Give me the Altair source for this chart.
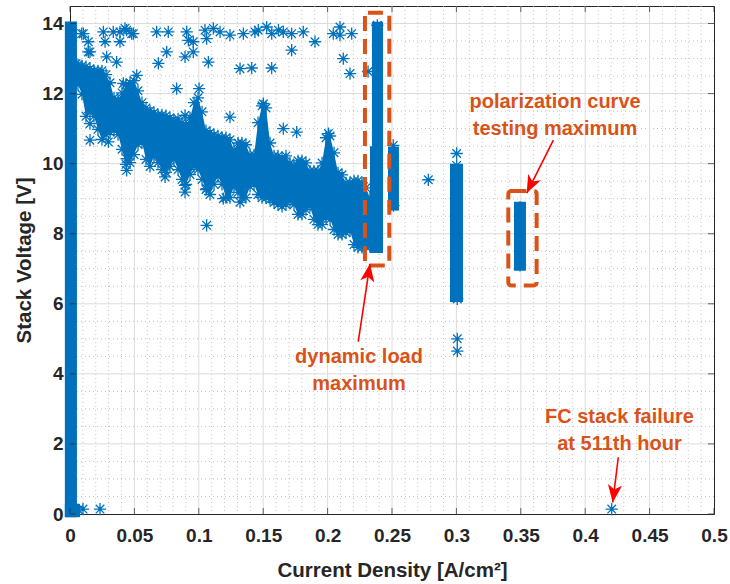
import altair as alt
import pandas as pd

BLUE = "#0072BD"
ORANGE = "#D95319"
RED = "#FF0000"
INK = "#262626"
FONT = "Liberation Sans"

# ---- dense band (upper / lower envelope of the scatter cloud) ----
BAND_X = [0.0047, 0.0062, 0.0093, 0.0124, 0.0155, 0.0186, 0.0217, 0.0248, 0.0280, 0.0311,
          0.0342, 0.0373, 0.0404, 0.0435, 0.0466, 0.0497, 0.0528, 0.0559, 0.0590, 0.0621,
          0.0652, 0.0683, 0.0714, 0.0745, 0.0776, 0.0807, 0.0839, 0.0870, 0.0901, 0.0932,
          0.0963, 0.0994, 0.1025, 0.1056, 0.1087, 0.1118, 0.1149, 0.1180, 0.1211, 0.1242,
          0.1273, 0.1304, 0.1335, 0.1366, 0.1398, 0.1429, 0.1460, 0.1491, 0.1522, 0.1553,
          0.1584, 0.1615, 0.1646, 0.1677, 0.1708, 0.1739, 0.1770, 0.1801, 0.1832, 0.1863,
          0.1894, 0.1925, 0.1957, 0.1988, 0.2019, 0.2050, 0.2081, 0.2112, 0.2143, 0.2174,
          0.2205, 0.2236, 0.2267, 0.2298, 0.2329]
BAND_TOP = [12.85, 12.82, 12.79, 12.77, 12.71, 12.65, 12.65, 12.65, 12.54, 12.31,
            11.88, 11.82, 12.02, 12.25, 12.31, 12.37, 12.08, 11.74, 11.59, 11.51,
            11.45, 11.39, 11.39, 11.37, 11.31, 11.22, 11.28, 11.17, 11.11, 11.31,
            11.74, 11.88, 11.48, 10.94, 10.88, 10.82, 10.79, 10.74, 10.74, 10.68,
            10.39, 10.59, 10.59, 10.54, 10.25, 10.25, 11.17, 11.65, 11.59, 10.59,
            10.22, 10.22, 10.17, 10.22, 10.02, 9.94, 10.08, 10.08, 10.02, 9.79,
            9.79, 9.79, 10.02, 10.74, 10.79, 10.31, 9.74, 9.68, 9.45, 9.45,
            9.51, 9.51, 9.45, 9.31, 9.02]
BAND_BOT = [12.30, 12.26, 11.98, 11.35, 11.46, 11.35, 10.98, 10.69, 10.83, 10.90,
            10.95, 10.83, 10.41, 9.98, 10.03, 10.26, 10.55, 10.61, 10.12, 9.92,
            10.21, 10.03, 9.83, 9.75, 9.92, 10.12, 9.83, 9.55, 9.41, 9.69,
            9.92, 9.83, 9.55, 9.26, 9.12, 9.41, 9.63, 9.41, 9.03, 9.03,
            9.35, 9.18, 9.03, 9.03, 9.35, 9.41, 9.12, 9.03, 9.03, 8.98,
            8.89, 8.83, 8.78, 8.83, 8.92, 8.83, 8.55, 8.55, 8.69, 8.78,
            8.41, 8.26, 8.26, 8.46, 8.41, 8.12, 7.98, 7.98, 8.03, 8.09,
            7.69, 7.61, 7.61, 7.63, 7.63]

# ---- dense vertical columns of points (x range, voltage range) ----
COL_X0 = [-0.0040, -0.0040, 0.2344, 0.2329, 0.2469, 0.2950, 0.3447]
COL_X1 = [0.0054, 0.0078, 0.2430, 0.2430, 0.2554, 0.3051, 0.3540]
COL_Y0 = [-0.09, -0.09, 10.30, 7.45, 8.66, 6.05, 6.94]
COL_Y1 = [14.06, 0.29, 14.05, 10.50, 10.49, 10.00, 8.91]

# ---- individual scattered measurements ----
OUT_X = [0.0104, 0.0142, 0.0142, 0.0259, 0.0272, 0.0285, 0.0336, 0.0362, 0.0388, 0.0388,
         0.0440, 0.0492, 0.0673, 0.0686, 0.0751, 0.0763, 0.0828, 0.0893, 0.0906, 0.0919,
         0.0957, 0.0957, 0.1048, 0.1061, 0.1074, 0.1113, 0.1165, 0.1242, 0.1320, 0.1346,
         0.1411, 0.1436, 0.1462, 0.1527, 0.1566, 0.1566, 0.1618, 0.1656, 0.1721, 0.1721,
         0.1811, 0.1902, 0.2044, 0.2096, 0.2096, 0.2122, 0.2187, 0.2174, 0.0091, 0.0155,
         0.0427, 0.0479, 0.0518, 0.0414, 0.0155, 0.0155, 0.0298, 0.0440, 0.0440, 0.0738,
         0.0893, 0.0893, 0.0893, 0.1002, 0.1061, 0.1061, 0.1190, 0.1242, 0.1320, 0.1501,
         0.1656, 0.1760, 0.2006, 0.2314, 0.2510, 0.2782, 0.3002, 0.3002, 0.3007, 0.3007,
         0.3007, 0.2386, 0.2512, 0.3494, 0.3494, 0.0101, 0.0233, 0.0030, 0.0065]
OUT_Y = [13.71, 13.48, 13.19, 13.76, 13.48, 13.05, 13.76, 12.90, 13.76, 13.48,
         13.81, 13.71, 13.76, 12.86, 13.19, 13.76, 12.14, 13.05, 13.76, 13.52,
         13.48, 13.19, 13.81, 13.57, 12.90, 13.86, 13.76, 13.67, 12.71, 13.71,
         12.73, 13.76, 13.81, 13.90, 12.73, 13.71, 13.81, 13.76, 13.71, 13.24,
         13.76, 13.48, 13.71, 13.90, 13.67, 13.00, 13.71, 12.57, 13.71, 13.19,
         13.86, 13.71, 12.52, 12.29, 11.14, 10.67, 10.62, 10.14, 9.81, 9.62,
         11.38, 9.38, 9.19, 12.14, 9.29, 8.24, 9.00, 11.33, 8.90, 11.71,
         11.00, 10.90, 10.86, 12.63, 10.52, 9.54, 10.29, 9.95, 5.00, 4.65,
         6.14, 13.95, 8.80, 8.75, 7.10, 0.14, 0.14, 0.10, 0.12]
FAIL_X = [0.4206]
FAIL_Y = [0.14]

# ---- annotations ----
ANN_TEXT = ["polarization curve", "testing maximum", "dynamic load", "maximum",
            "FC stack failure", "at 511th hour"]
ANN_X = [0.3766, 0.3766, 0.2244, 0.2244, 0.4266, 0.4266]
ANN_Y = [11.77, 11.00, 4.49, 3.71, 2.77, 2.00]

ARROW_X0 = [0.2238, 0.3753, 0.4257]
ARROW_Y0 = [4.92, 10.67, 1.62]
ARROW_X1 = [0.2329, 0.3546, 0.4214]
ARROW_Y1 = [7.14, 9.16, 0.33]
ARROW_ANGLE = [8.6, 206.1, 187.1]

BOX_X0 = [0.2290, 0.3403]
BOX_X1 = [0.2479, 0.3623]
BOX_Y0 = [7.09, 6.52]
BOX_Y1 = [14.31, 9.22]

# ---- axes ----
X_TICKS = [0, 0.05, 0.1, 0.15, 0.2, 0.25, 0.3, 0.35, 0.4, 0.45, 0.5]
Y_TICKS = [0, 2, 4, 6, 8, 10, 12, 14]
X_MINOR = [round(i * 0.01, 2) for i in range(1, 50) if i % 5]
Y_MINOR = [i * 0.5 for i in range(1, 29) if i % 4]
X_MAJOR_GRID = X_TICKS[1:-1]
Y_MAJOR_GRID = Y_TICKS[1:]

W, H = 644, 508
xs = alt.Scale(domain=[0, 0.5], nice=False, zero=False)
ys = alt.Scale(domain=[0, 14.5], nice=False, zero=False)

x_axis = alt.Axis(values=X_TICKS, format="~g", title="Current Density [A/cm²]",
                  grid=False, ticks=False, tickSize=0, domain=False,
                  labelFont=FONT, labelFontSize=19, labelFontWeight="bold", labelColor=INK,
                  labelPadding=12, labelBaseline="top", labelFlush=False, labelOverlap=False,
                  titleFont=FONT, titleFontSize=20.5, titleFontWeight="bold", titleColor=INK,
                  titleY=56, titleBaseline="middle")
y_axis = alt.Axis(values=Y_TICKS, format="~g", title="Stack Voltage [V]",
                  grid=False, ticks=False, tickSize=0, domain=False,
                  labelFont=FONT, labelFontSize=19, labelFontWeight="bold", labelColor=INK,
                  labelPadding=7, labelOverlap=False,
                  titleFont=FONT, titleFontSize=20.5, titleFontWeight="bold", titleColor=INK,
                  titleX=-46, titleBaseline="middle")


def X(f):
    return alt.X(f"{f}:Q", scale=xs, axis=x_axis)


def Y(f):
    return alt.Y(f"{f}:Q", scale=ys, axis=y_axis)


ASTERISK = "M-1,0L1,0M0,-1L0,1M-0.7,-0.7L0.7,0.7M-0.7,0.7L0.7,-0.7"
ARROWHEAD = "M0,0L0.6,1.5L0,1.1L-0.6,1.5Z"

minor_x = alt.Chart(pd.DataFrame({"v": X_MINOR})).mark_rule(
    color="#b5b5b5", strokeWidth=0.8, strokeDash=[1, 3]).encode(x=X("v"))
minor_y = alt.Chart(pd.DataFrame({"v": Y_MINOR})).mark_rule(
    color="#b5b5b5", strokeWidth=0.8, strokeDash=[1, 3]).encode(y=Y("v"))
major_x = alt.Chart(pd.DataFrame({"v": X_MAJOR_GRID})).mark_rule(
    color="#dcdcdc", strokeWidth=1).encode(x=X("v"))
major_y = alt.Chart(pd.DataFrame({"v": Y_MAJOR_GRID})).mark_rule(
    color="#dcdcdc", strokeWidth=1).encode(y=Y("v"))

band = alt.Chart(pd.DataFrame({"x": BAND_X, "top": BAND_TOP, "bot": BAND_BOT})).mark_area(
    color=BLUE, opacity=1).encode(x=X("x"), y=Y("top"), y2="bot:Q")

cols = alt.Chart(pd.DataFrame({"x0": COL_X0, "x1": COL_X1, "y0": COL_Y0, "y1": COL_Y1})).mark_rect(
    color=BLUE).encode(x=X("x0"), x2="x1:Q", y=Y("y0"), y2="y1:Q")

pts_df = pd.DataFrame({"x": OUT_X + BAND_X + BAND_X + FAIL_X,
                       "y": OUT_Y + BAND_TOP + BAND_BOT + FAIL_Y})
pts = alt.Chart(pts_df).mark_point(
    shape=ASTERISK, filled=False, color=BLUE, size=150, strokeWidth=1.3, opacity=1).encode(
    x=X("x"), y=Y("y"))

boxes = alt.Chart(pd.DataFrame({"x0": BOX_X0, "x1": BOX_X1, "y0": BOX_Y0, "y1": BOX_Y1})).mark_rect(
    filled=False, stroke=ORANGE, strokeWidth=4, strokeDash=[15, 8], cornerRadius=3).encode(
    x=X("x0"), x2="x1:Q", y=Y("y0"), y2="y1:Q")

arr_df = pd.DataFrame({"x0": ARROW_X0, "y0": ARROW_Y0, "x1": ARROW_X1, "y1": ARROW_Y1, "a": ARROW_ANGLE})
shafts = alt.Chart(arr_df).mark_rule(color=RED, strokeWidth=1.6).encode(
    x=X("x0"), y=Y("y0"), x2="x1:Q", y2="y1:Q")
heads = alt.Chart(arr_df).mark_point(
    shape=ARROWHEAD, filled=True, color=RED, size=560, opacity=1, strokeWidth=0).encode(
    x=X("x1"), y=Y("y1"), angle=alt.Angle("a:Q", scale=None))

texts = alt.Chart(pd.DataFrame({"t": ANN_TEXT, "x": ANN_X, "y": ANN_Y})).mark_text(
    font=FONT, fontSize=20, fontWeight="bold", color=ORANGE, align="center", baseline="middle").encode(
    x=X("x"), y=Y("y"), text="t:N")

xt = pd.DataFrame({"v": X_TICKS})
yt = pd.DataFrame({"v": Y_TICKS})
tick_b = alt.Chart(xt).mark_tick(orient="vertical", color=INK, thickness=1, size=6).encode(
    x=X("v"), y=alt.value(H - 3))
tick_t = alt.Chart(xt).mark_tick(orient="vertical", color=INK, thickness=1, size=6).encode(
    x=X("v"), y=alt.value(3))
tick_l = alt.Chart(yt).mark_tick(orient="horizontal", color=INK, thickness=1, size=6).encode(
    y=Y("v"), x=alt.value(3))
tick_r = alt.Chart(yt).mark_tick(orient="horizontal", color=INK, thickness=1, size=6).encode(
    y=Y("v"), x=alt.value(W - 3))

chart = alt.layer(
    minor_x, minor_y, major_x, major_y, band, cols, pts, boxes, shafts, heads, texts,
    tick_b, tick_t, tick_l, tick_r
).properties(
    width=W, height=H,
    autosize=alt.AutoSizeParams(type="none"),
    padding={"left": 70, "top": 6, "right": 16, "bottom": 70},
    background="white",
).configure_view(stroke=INK, strokeWidth=1)

chart.save("out.html", embed_options={"renderer": "svg", "actions": False})
